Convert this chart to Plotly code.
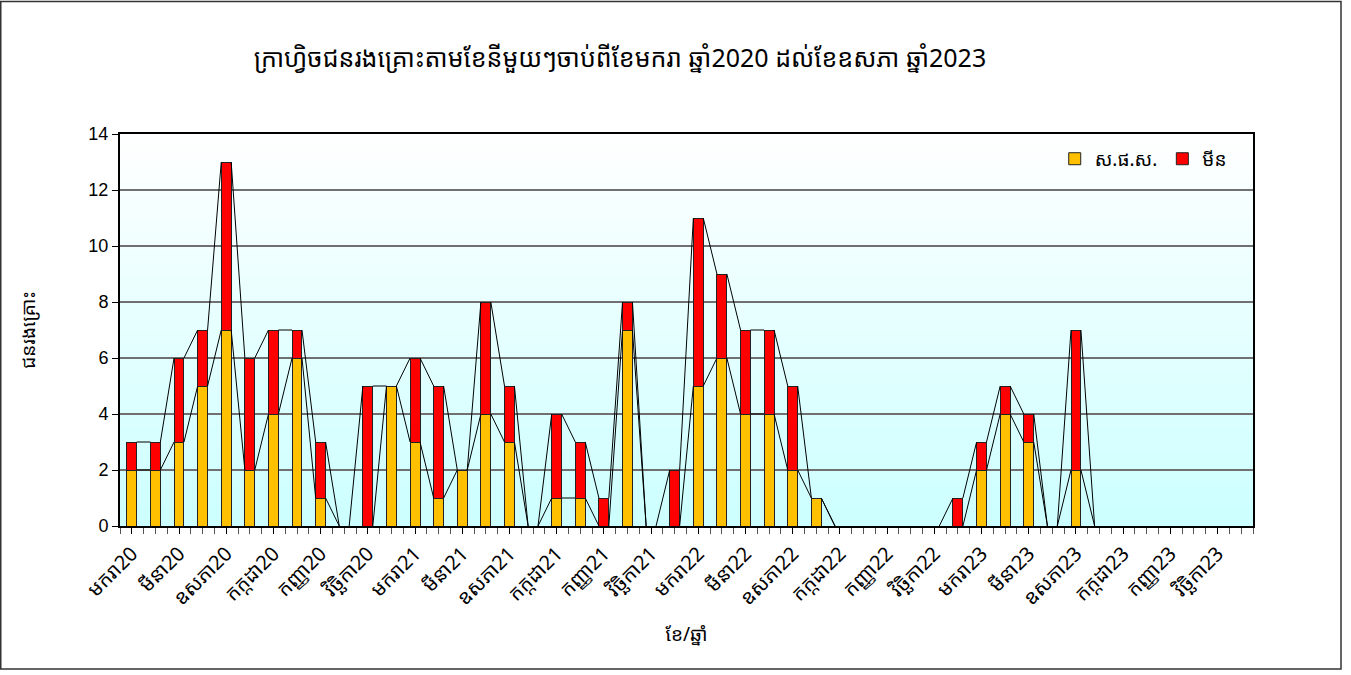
import plotly.graph_objects as go

months = ["មករា", "កុម្ភៈ", "មីនា", "មេសា", "ឧសភា", "មិថុនា",
          "កក្កដា", "សីហា", "កញ្ញា", "តុលា", "វិច្ឆិកា", "ធ្នូ"]
years = ["20", "21", "22", "23"]
categories = [m + y for y in years for m in months]

# ស.ផ.ស. (yellow, bottom) and មីន (red, top)
sfs = [2, 2, 3, 5, 7, 2, 4, 6, 1, 0, 0, 5,
       3, 1, 2, 4, 3, 0, 1, 1, 0, 7, 0, 0,
       5, 6, 4, 4, 2, 1, 0, 0, 0, 0, 0, 0,
       2, 4, 3, 0, 2, 0, 0, 0, 0, 0, 0, 0]
mine = [1, 1, 3, 2, 6, 4, 3, 1, 2, 0, 5, 0,
        3, 4, 0, 4, 2, 0, 3, 2, 1, 1, 0, 2,
        6, 3, 3, 3, 3, 0, 0, 0, 0, 0, 0, 1,
        1, 1, 1, 0, 5, 0, 0, 0, 0, 0, 0, 0]

series_names = ["ស.ផ.ស.", "មីន"]
colors = ["#FFC000", "#FF0000"]
title = "ក្រាហ្វិចជនរងគ្រោះតាមខែនីមួយៗចាប់ពីខែមករា ឆ្នាំ2020 ដល់ខែឧសភា ឆ្នាំ2023"
x_title = "ខែ/ឆ្នាំ"
y_title = "ជនរងគ្រោះ"

W, H = 1351, 675
ML, MR, MT, MB = 120, 98, 134, 149
BAR_W = 0.42
KH = "Khmer OS, Noto Sans Khmer, Khmer OS System, Noto Sans, DejaVu Sans, sans-serif"
AR = "Liberation Sans, Arial, sans-serif"

n = len(categories)
xs = list(range(n))
totals = [a + b for a, b in zip(sfs, mine)]

fig = go.Figure()

# gradient background bands
NB = 80
for k in range(NB):
    t = k / NB
    r = int(round(204 + (255 - 204) * (t + 0.5 / NB)))
    fig.add_shape(type="rect", xref="x domain", yref="y domain",
                  x0=0, x1=1, y0=t, y1=t + 1 / NB + 0.002,
                  fillcolor=f"rgb({r},255,255)", line_width=0, layer="below")

fig.add_trace(go.Bar(x=xs, y=[v if v else None for v in sfs], name=series_names[0], width=BAR_W,
                     marker=dict(color=colors[0], line=dict(color="#222", width=1))))
fig.add_trace(go.Bar(x=xs, y=[v if v else None for v in mine], name=series_names[1], width=BAR_W,
                     marker=dict(color=colors[1], line=dict(color="#222", width=1))))

# series lines (connect segment tops between adjacent bars)
lx, ly = [], []
for level in (sfs, totals):
    for i in range(n - 1):
        if level[i] == 0 and level[i + 1] == 0:
            continue
        lx += [xs[i] + BAR_W / 2, xs[i + 1] - BAR_W / 2, None]
        ly += [level[i], level[i + 1], None]
fig.add_trace(go.Scatter(x=lx, y=ly, mode="lines", line=dict(color="black", width=1),
                         showlegend=False, hoverinfo="skip", cliponaxis=True))

# outer chart border
pw = W - ML - MR
ph = H - MT - MB
fig.add_shape(type="rect", xref="paper", yref="paper",
              x0=(0.75 - ML) / pw, x1=(W - 10 - ML) / pw,
              y0=-(H - 6 - MT - ph) / ph, y1=1 + (MT - 1.5) / ph,
              line=dict(color="#333", width=1.5), fillcolor="rgba(0,0,0,0)", layer="above")

tickvals = xs[::2]
ticktext = categories[::2]

fig.update_layout(
    width=W, height=H,
    margin=dict(l=ML, r=MR, t=MT, b=MB),
    paper_bgcolor="white", plot_bgcolor="white",
    barmode="stack",
    title=dict(text=title, x=(620 - ML) / pw, xref="paper", xanchor="center",
               y=1 - 58 / H, yanchor="middle", font=dict(family=KH, size=25, color="black")),
    legend=dict(orientation="h", x=0.825, y=0.985, xanchor="left", yanchor="top",
                bgcolor="rgba(0,0,0,0)", font=dict(family=KH, size=19, color="black"),
                itemwidth=30, traceorder="normal"),
    showlegend=True,
    xaxis=dict(range=[-0.5, n - 0.5], tickmode="array", tickvals=tickvals, ticktext=ticktext,
               tickangle=-45, ticks="outside", ticklen=6, tickcolor="black",
               tickfont=dict(family=KH, size=20, color="black"),
               showline=True, linecolor="black", linewidth=2, mirror=True,
               showgrid=False, zeroline=False,
               minor=dict(tick0=-0.5, dtick=0.5, ticks="outside", ticklen=6, tickcolor="#555"),
               title=dict(text=x_title, font=dict(family=KH, size=19, color="black"), standoff=18)),
    yaxis=dict(range=[0, 14], dtick=2, ticks="outside", ticklen=6, tickcolor="black",
               tickfont=dict(family=AR, size=18, color="black"),
               showline=True, linecolor="black", linewidth=2, mirror=True,
               showgrid=True, gridcolor="#707070", gridwidth=1.5, zeroline=False,
               title=dict(text=y_title, font=dict(family=KH, size=19, color="black"), standoff=48)),
    bargap=0.58,
)

fig.write_html("out.html", config={"displayModeBar": False},
               post_script="document.body.style.margin='0';document.body.style.overflow='hidden';")
